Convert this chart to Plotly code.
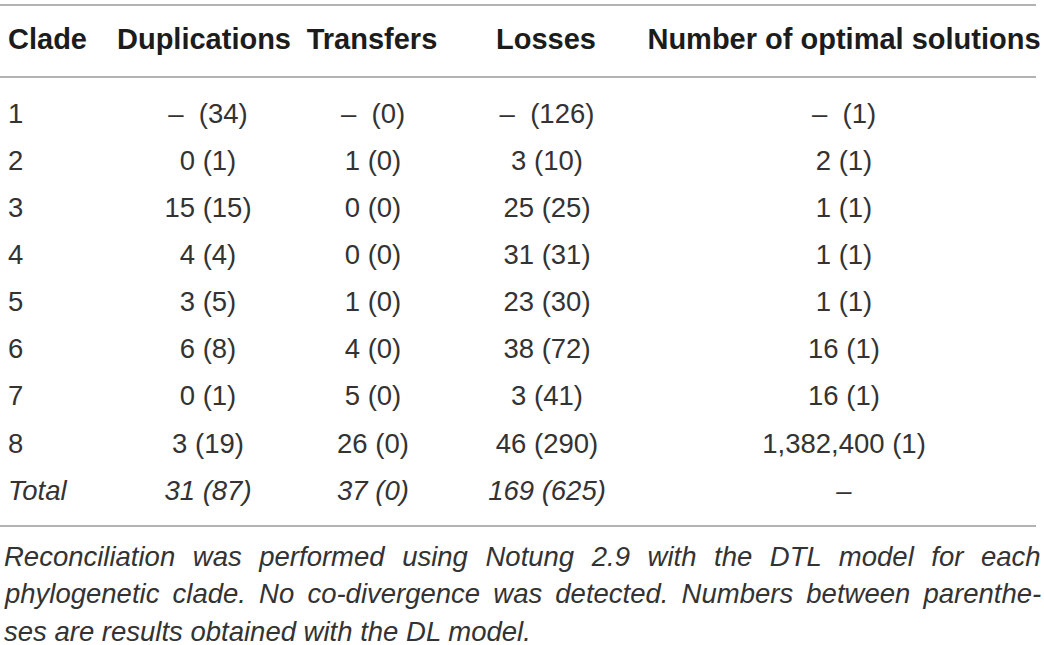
import plotly.graph_objs as go

# table contents
headers = ['Clade', 'Duplications', 'Transfers', 'Losses', 'Number of optimal solutions']
clades = ['1', '2', '3', '4', '5', '6', '7', '8', 'Total']
duplications = ['–  (34)', '0 (1)', '15 (15)', '4 (4)', '3 (5)', '6 (8)', '0 (1)', '3 (19)', '31 (87)']
transfers = ['–  (0)', '1 (0)', '0 (0)', '0 (0)', '1 (0)', '4 (0)', '5 (0)', '26 (0)', '37 (0)']
losses = ['–  (126)', '3 (10)', '25 (25)', '31 (31)', '23 (30)', '38 (72)', '3 (41)', '46 (290)', '169 (625)']
solutions = ['–  (1)', '2 (1)', '1 (1)', '1 (1)', '1 (1)', '16 (1)', '16 (1)', '1,382,400 (1)', '–']
footnote = ['Reconciliation was performed using Notung 2.9 with the DTL model for each',
            'phylogenetic clade. No co-divergence was detected. Numbers between parenthe-',
            'ses are results obtained with the DL model.']

FONT = 'Liberation Sans'
TXT = '#333333'

col_x = [8, 208, 373, 547, 844]
header_x = [8, 204, 372, 546, 844]
row0, row_step = 116, 47.1
rows_y = [row0 + i * row_step for i in range(len(clades))]


def styled(vals):
    # last row (Total) is set in italics
    return vals[:-1] + ['<i>' + vals[-1] + '</i>']


def justify(line, pad):
    # widen the word gaps so the line fills the width, like the justified caption
    return line.replace(' ', ' ' + pad)


fig = go.Figure()

fig.add_trace(go.Scatter(x=header_x, y=[42] * len(headers), text=['<b>' + h + '</b>' for h in headers],
                         mode='text', textposition=['middle right'] + ['middle center'] * 4,
                         textfont=dict(family=FONT, size=29, color='#1c1c1c'), hoverinfo='skip'))

columns = [clades, duplications, transfers, losses, solutions]
for i, col in enumerate(columns):
    fig.add_trace(go.Scatter(x=[col_x[i]] * len(col), y=rows_y, text=styled(col), mode='text',
                             textposition='middle right' if i == 0 else 'middle center',
                             textfont=dict(family=FONT, size=27.5, color=TXT), hoverinfo='skip'))

for yl in [5, 77, 526]:
    fig.add_shape(type='line', x0=0, x1=1036, y0=yl, y1=yl, xref='x', yref='y',
                  line=dict(color='#9a9a9a', width=1.5))

pads = ['\u00a0\u200a', '\u2009', '']
for j, line in enumerate(footnote):
    fig.add_annotation(x=2, y=556 + j * 37.5, text='<i>' + justify(line, pads[j]) + '</i>',
                       showarrow=False, xanchor='left', yanchor='middle', xref='x', yref='y',
                       font=dict(family=FONT, size=27.5, color=TXT))

fig.update_layout(width=1044, height=645, margin=dict(l=0, r=0, t=0, b=0),
                  paper_bgcolor='white', plot_bgcolor='white', showlegend=False,
                  xaxis=dict(range=[0, 1044], visible=False, fixedrange=True),
                  yaxis=dict(range=[645, 0], visible=False, fixedrange=True))

# drop the default page margin so the figure sits at the window corner
fig.write_html('out.html', config={'displayModeBar': False},
               post_script="document.body.style.margin='0';")
